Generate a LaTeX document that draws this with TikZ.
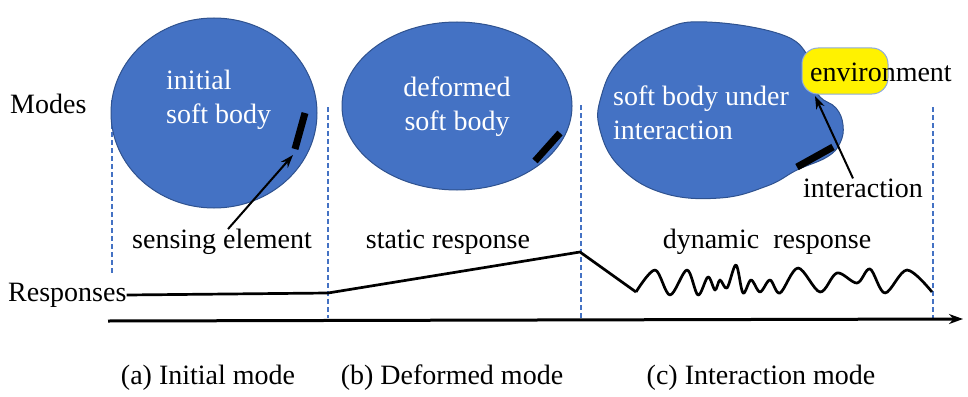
\documentclass[tikz,border=0pt]{standalone}
\usepackage{fontspec}
\setmainfont{Liberation Serif}
\newfontfamily\timesf{Liberation Serif}
\usetikzlibrary{shapes.geometric,arrows.meta}
\definecolor{blobblue}{HTML}{4472C4}
\definecolor{blobedge}{HTML}{2F528F}
\definecolor{envedge}{HTML}{8FAADC}
\begin{document}
\begin{tikzpicture}[x=1pt,y=-1pt,
 lbl/.style={font=\timesf\fontsize{28}{34}\selectfont, inner sep=0},
 body/.style={fill=blobblue, draw=blobedge, line width=1},
 sensor/.style={line width=7},
 sep/.style={draw=blobblue, dash pattern=on 5pt off 3pt, line width=2.3},
 resp/.style={line width=2.7, line join=round},
 pointer/.style={-{Stealth[length=13pt,width=9pt]}, line width=2}]
\useasboundingbox (0,0) rectangle (968,396);

% separators
\draw[sep] (112,100) -- (112,275);
\draw[sep] (328,107) -- (328,318);
\draw[sep] (581,105) -- (581,318);
\draw[sep] (933,107) -- (933,318);

% (a) initial soft body
\node[body, ellipse, minimum width=206, minimum height=190, inner sep=0] (b1) at (214,113) {};
\node[lbl, white, align=left, anchor=west] (t1) at (166,100) {initial\\soft body};
\coordinate (s1a) at (305,113);
\coordinate (s1b) at (295,149);
\draw[sensor] (s1a) -- (s1b);
\node[lbl] (se) at (222,242) {sensing element};
\coordinate (s1tip) at (293,155);
\draw[pointer] ([xshift=6pt]se.north) -- (s1tip);

% (b) deformed soft body
\node[body, ellipse, minimum width=230, minimum height=168, inner sep=0] (b2) at (457,106) {};
\node[lbl, white, align=center] (t2) at (457,107) {deformed\\soft body};
\coordinate (s2a) at (560,133);
\coordinate (s2b) at (535,161);
\draw[sensor] (s2a) -- (s2b);
\node[lbl] (sr) at (448,242) {static response};

% (c) soft body under interaction
\draw[body] plot[smooth cycle, tension=0.7] coordinates {
 (707,22) (780,34) (808,56) (814,82) (820,97) (836,108) (843,125) (840,143)
 (827,157) (797,170) (767,186) (720,198) (663,193) (620,167) (600,130)
 (601,97) (620,60) (663,30)};
\node[lbl, white, align=left, anchor=west] (t3) at (613,113) {soft body under\\interaction};
\node[draw=envedge, fill=yellow, rounded corners=16, minimum width=86, minimum height=46, line width=1, inner sep=0] (env) at (845,71) {};
\node[lbl, anchor=west] (envt) at (810,72) {environment};
\coordinate (s3a) at (797,167);
\coordinate (s3b) at (833,147);
\draw[sensor] (s3a) -- (s3b);
\node[lbl] (it) at (863,188) {interaction};
\coordinate (envtip) at (815,96);
\draw[pointer] ([xshift=-10pt]it.north) -- (envtip);
\node[lbl] (dr) at (767,242) {dynamic\ \ response};

% row labels
\node[lbl, anchor=west] (modes) at (10,104) {Modes};
\node[lbl, anchor=west] (resps) at (8,295) {Responses};

% response curve
\draw[resp] (resps.east) -- (328,293) -- (580,252) -- (636,292)
 plot[smooth, tension=0.55] coordinates {(636,292) (655,270) (670,295) (687,270)
 (698,295) (708,277) (715,290) (720,280) (727,288) (736,265) (743,293)
 (751,280) (760,292) (770,280) (780,293) (798,268) (820,292) (837,273)
 (857,283) (870,269) (885,293) (907,270) (932,292)};

% time axis
\coordinate (ax0) at (108,321);
\coordinate (ax1) at (963,319);
\draw[line width=3, -{Stealth[length=14pt,width=10pt]}] (ax0) -- (ax1);

% captions
\node[lbl] (ca) at (208,378) {(a) Initial mode};
\node[lbl] (cb) at (452,378) {(b) Deformed mode};
\node[lbl] (cc) at (761,378) {(c) Interaction mode};
\end{tikzpicture}
\end{document}
